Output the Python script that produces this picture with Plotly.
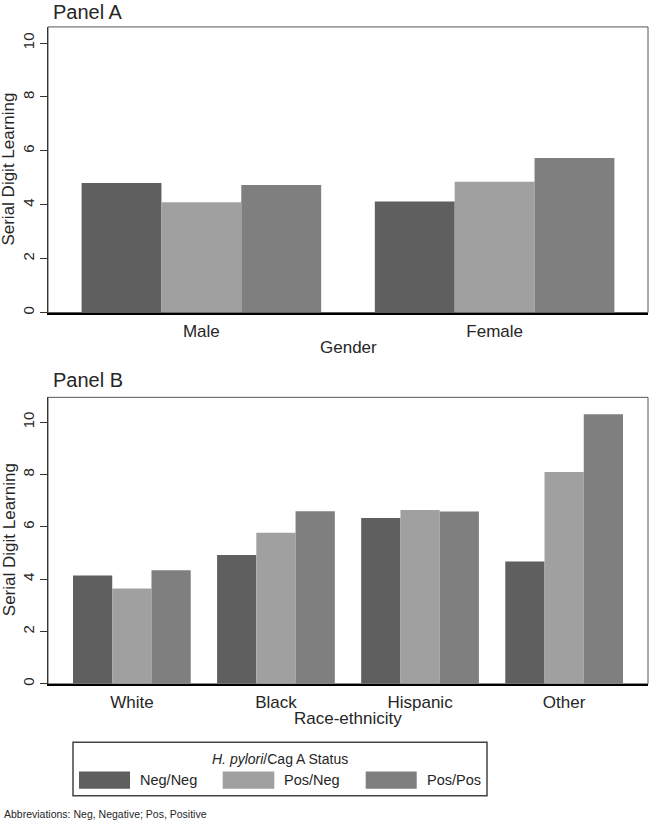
import plotly.graph_objects as go

# ---- data ----
statuses = ["Neg/Neg", "Pos/Neg", "Pos/Pos"]
colors = ["#5f5f5f", "#a0a0a0", "#7f7f7f"]

gender_cats = ["Male", "Female"]
gender_negneg = [4.81, 4.12]
gender_posneg = [4.09, 4.85]
gender_pospos = [4.73, 5.74]

race_cats = ["White", "Black", "Hispanic", "Other"]
race_negneg = [4.14, 4.92, 6.34, 4.68]
race_posneg = [3.64, 5.77, 6.64, 8.10]
race_pospos = [4.34, 6.60, 6.59, 10.30]

y_ticks = [0, 2, 4, 6, 8, 10]

W, H = 650, 823
FONT = "Liberation Sans, Arial, sans-serif"
TXT = "#262626"


def px(x):
    return x / W


def py(y):
    return (H - y) / H


fig = go.Figure()

gender_series = [gender_negneg, gender_posneg, gender_pospos]
race_series = [race_negneg, race_posneg, race_pospos]

for name, col, vals in zip(statuses, colors, gender_series):
    fig.add_trace(go.Bar(x=gender_cats, y=vals, name=name, marker_color=col,
                         marker_line_width=0, xaxis="x", yaxis="y", showlegend=False))
for name, col, vals in zip(statuses, colors, race_series):
    fig.add_trace(go.Bar(x=race_cats, y=vals, name=name, marker_color=col,
                         marker_line_width=0, xaxis="x2", yaxis="y2", showlegend=False))

xdom = [px(48), px(648)]
yax_common = dict(
    tickvals=y_ticks, ticks="outside", ticklen=7, tickcolor="#333", tickwidth=1,
    tickangle=-90, tickfont=dict(size=15, color=TXT, family=FONT),
    showline=True, linecolor="#333", linewidth=1, showgrid=False, zeroline=False,
    fixedrange=True,
)
xax_common = dict(
    type="category", showline=True, linecolor="#000", linewidth=2, ticks="",
    tickfont=dict(size=17, color=TXT, family=FONT), showgrid=False, zeroline=False,
    ticklabelstandoff=2, fixedrange=True,
)

fig.update_layout(
    width=W, height=H,
    margin=dict(l=0, r=0, t=0, b=0),
    paper_bgcolor="white", plot_bgcolor="white",
    barmode="group", bargap=0.183, bargroupgap=0,
    font=dict(family=FONT, color=TXT),
    hovermode=False,
    xaxis=dict(domain=xdom, anchor="y", range=[-0.523, 1.523], **xax_common),
    yaxis=dict(domain=[py(313.3), py(27)], anchor="x", range=[0, 10.6], **yax_common),
    xaxis2=dict(domain=xdom, anchor="y2", range=[-0.582, 3.582], **xax_common),
    yaxis2=dict(domain=[py(685.5), py(398.3)], anchor="x2", range=[0, 10.95], **yax_common),
)

shapes = []
for xr, yr in [("x domain", "y domain"), ("x2 domain", "y2 domain")]:
    shapes.append(dict(type="rect", xref=xr, yref=yr, x0=0, x1=1, y0=0, y1=1,
                       line=dict(color="#555", width=1), layer="below"))

# legend box
shapes.append(dict(type="rect", xref="paper", yref="paper",
                   x0=px(73), x1=px(487), y0=py(797.7), y1=py(744),
                   line=dict(color="#444", width=1.5)))
sw = [(79, 130), (222.7, 274.3), (365.7, 416.7)]
for (a, b), col in zip(sw, colors):
    shapes.append(dict(type="rect", xref="paper", yref="paper",
                       x0=px(a), x1=px(b), y0=py(790.7), y1=py(773.3),
                       fillcolor=col, line=dict(width=0)))
fig.update_layout(shapes=shapes)

ann = []


def add_text(text, x, y, size, xanchor="center", angle=0):
    ann.append(dict(text=text, x=px(x), y=py(y), xref="paper", yref="paper",
                    xanchor=xanchor, yanchor="middle", showarrow=False,
                    textangle=angle, font=dict(size=size, color=TXT, family=FONT)))


add_text("Panel A", 51, 12, 20, xanchor="left")
add_text("Panel B", 51, 381, 20, xanchor="left")
add_text("Serial Digit Learning", 9, 170, 17, angle=-90)
add_text("Serial Digit Learning", 9, 541.5, 17, angle=-90)
add_text("Gender", 348, 348, 17)
add_text("Race-ethnicity", 348, 720, 17)
add_text("<i>H. pylori</i>/Cag A Status", 280, 761, 14)
lab_x = [168, 311.5, 454]
for name, lx in zip(statuses, lab_x):
    add_text(name, lx, 782, 14.5)
add_text("Abbreviations: Neg, Negative; Pos, Positive", 2, 816, 10.5, xanchor="left")

fig.update_layout(annotations=ann)

fig.write_html(
    "out.html",
    config={"displayModeBar": False, "staticPlot": True},
    post_script="document.body.style.margin='0px';document.body.style.padding='0px';"
                "document.body.style.overflow='hidden';",
)
